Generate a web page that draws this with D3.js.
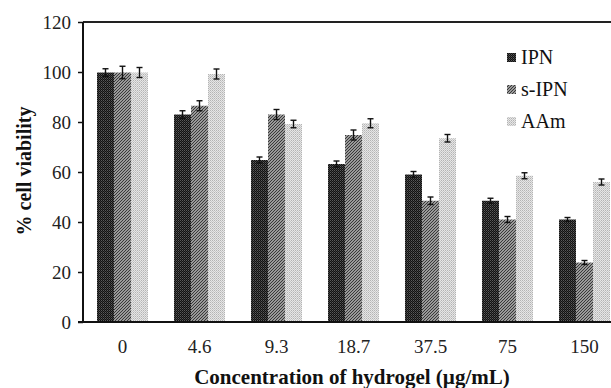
<!DOCTYPE html>
<html>
<head>
<meta charset="utf-8">
<script src="https://cdn.jsdelivr.net/npm/d3@7"></script>
<style>
	body { margin: 0; background: #fff; }
	svg { display: block; font-family: 'Liberation Serif', 'Times New Roman', serif; }
</style>
</head>
<body>
<svg id="chart" width="611" height="388"></svg>
<script>
// concentrations (µg/mL)
const categories = ['0', '4.6', '9.3', '18.7', '37.5', '75', '150'];
const series = ['IPN', 's-IPN', 'AAm'];
const ipn = [99.8, 83, 64.8, 63.2, 59, 48.5, 41];
const ipnErr = [1.5, 1.5, 1.2, 1.2, 1.2, 1, 0.8];
const sipn = [99.8, 86.5, 83, 74.8, 48.5, 41, 23.8];
const sipnErr = [2.5, 2, 2, 2, 1.5, 1.2, 0.8];
const aam = [99.8, 99.2, 79.2, 79.5, 73.5, 58.5, 56];
const aamErr = [2, 2, 1.5, 1.8, 1.5, 1.2, 1.2];
const yTicks = [0, 20, 40, 60, 80, 100, 120];

const values = [ipn, sipn, aam];
const errors = [ipnErr, sipnErr, aamErr];

let svg = d3.select('#chart'),
	margin = {top: 22, left: 83, bottom: 66},
	height = +svg.attr('height') - margin.top - margin.bottom;

// patterns to mimic the printed fills
let defs = svg.append('defs');

let p1 = defs.append('pattern').attr('id', 'pat-ipn')
	.attr('width', 2).attr('height', 2).attr('patternUnits', 'userSpaceOnUse');
p1.append('rect').attr('width', 2).attr('height', 2).attr('fill', '#111');
p1.append('rect').attr('width', 1).attr('height', 1).attr('fill', '#5a5a5a');
p1.append('rect').attr('x', 1).attr('y', 1).attr('width', 1).attr('height', 1).attr('fill', '#3a3a3a');

let p2 = defs.append('pattern').attr('id', 'pat-sipn')
	.attr('width', 3).attr('height', 3).attr('patternUnits', 'userSpaceOnUse');
p2.append('rect').attr('width', 3).attr('height', 3).attr('fill', '#c8c8c8');
p2.append('path').attr('d', 'M-1,1 L1,-1 M0,3 L3,0 M2,4 L4,2')
	.attr('stroke', '#333').attr('stroke-width', 1.2);

let p3 = defs.append('pattern').attr('id', 'pat-aam')
	.attr('width', 2).attr('height', 2).attr('patternUnits', 'userSpaceOnUse');
p3.append('rect').attr('width', 2).attr('height', 2).attr('fill', '#e6e6e6');
p3.append('rect').attr('width', 1).attr('height', 1).attr('fill', '#b4b4b4');
p3.append('rect').attr('x', 1).attr('y', 1).attr('width', 1).attr('height', 1).attr('fill', '#c8c8c8');

const fills = ['url(#pat-ipn)', 'url(#pat-sipn)', 'url(#pat-aam)'];

let x = d3.scaleBand().domain(categories).range([84, 623]),
	xs = d3.scaleBand().domain(series).range([0, 51]),
	y = d3.scaleLinear().domain([0, 120]).range([margin.top + height, margin.top]);

let g = svg.append('g');

// top border of the plot area
g.append('line')
	.attr('x1', margin.left).attr('x2', 640)
	.attr('y1', y(120)).attr('y2', y(120))
	.attr('stroke', '#222').attr('stroke-width', 2);

// bars
let groups = g.selectAll('g.cat')
	.data(categories)
	.enter()
	.append('g')
	.attr('class', 'cat')
	.attr('transform', d => `translate(${x(d) + (x.bandwidth() - 51) / 2}, 0)`);

series.forEach((s, si) => {
	groups.append('rect')
		.attr('x', xs(s))
		.attr('width', xs.bandwidth())
		.attr('y', (d, i) => y(values[si][i]))
		.attr('height', (d, i) => y(0) - y(values[si][i]))
		.attr('fill', fills[si]);

	let eb = groups.append('g')
		.attr('stroke', '#111')
		.attr('stroke-width', 1.4);
	let cx = xs(s) + xs.bandwidth() / 2;
	eb.append('line')
		.attr('x1', cx).attr('x2', cx)
		.attr('y1', (d, i) => y(values[si][i] + errors[si][i]))
		.attr('y2', (d, i) => y(values[si][i] - errors[si][i]));
	[1, -1].forEach(sign => {
		eb.append('line')
			.attr('x1', cx - 3).attr('x2', cx + 3)
			.attr('y1', (d, i) => y(values[si][i] + sign * errors[si][i]))
			.attr('y2', (d, i) => y(values[si][i] + sign * errors[si][i]));
	});
});

// y axis
let yAxis = g.append('g')
	.attr('transform', `translate(${margin.left}, 0)`)
	.call(d3.axisLeft(y).tickValues(yTicks).tickSize(5).tickPadding(7));
yAxis.select('.domain').attr('stroke', '#111').attr('stroke-width', 2)
	.attr('d', `M0,${y(0)}V${y(120)}`);
yAxis.selectAll('.tick line').attr('stroke', '#111').attr('stroke-width', 1.5);
yAxis.selectAll('.tick text')
	.attr('font-size', 19)
	.attr('font-family', 'Liberation Serif')
	.attr('fill', '#222');

// x axis
let xAxis = g.append('g')
	.attr('transform', `translate(0, ${y(0)})`)
	.call(d3.axisBottom(x).tickSize(0).tickPadding(18));
xAxis.select('.domain').attr('stroke', '#111').attr('stroke-width', 2)
	.attr('d', `M78,0H640`);
xAxis.selectAll('.tick text')
	.attr('font-size', 19)
	.attr('font-family', 'Liberation Serif')
	.attr('fill', '#222');

// axis titles
svg.append('text')
	.attr('x', 352).attr('y', 384)
	.attr('text-anchor', 'middle')
	.attr('font-size', 21)
	.attr('font-weight', 'bold')
	.attr('fill', '#111')
	.text('Concentration of hydrogel (µg/mL)');

svg.append('text')
	.attr('transform', 'translate(31, 171) rotate(-90)')
	.attr('text-anchor', 'middle')
	.attr('font-size', 20)
	.attr('font-weight', 'bold')
	.attr('fill', '#111')
	.text('% cell viability');

// legend
let legend = svg.append('g')
	.selectAll('g')
	.data(series)
	.enter()
	.append('g')
	.attr('transform', (d, i) => `translate(507, ${58 + i * 32})`);
legend.append('rect')
	.attr('x', 0).attr('y', -5)
	.attr('width', 9).attr('height', 9)
	.attr('fill', (d, i) => fills[i]);
legend.append('text')
	.attr('x', 14).attr('y', 6)
	.attr('font-size', 20)
	.attr('fill', '#111')
	.text(d => d);
</script>
</body>
</html>
